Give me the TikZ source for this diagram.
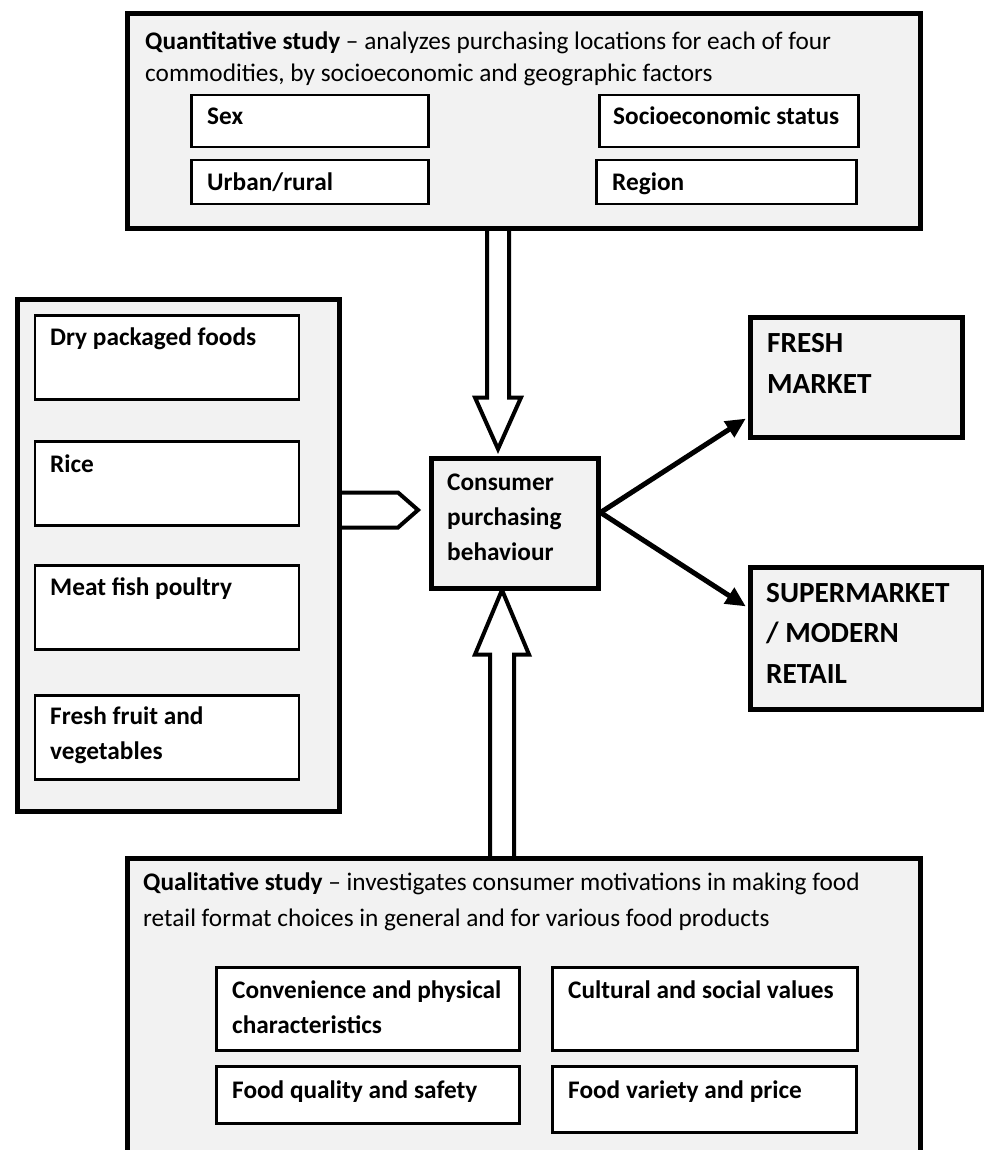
\documentclass[tikz,border=0pt]{standalone}
\usepackage{fontspec}
\setmainfont{Carlito}
\usetikzlibrary{arrows.meta,calc}
\definecolor{boxgray}{HTML}{F2F2F2}
\begin{document}
\begin{tikzpicture}[x=1pt,y=-1pt,
  bigbox/.style={draw=black,line width=5pt,fill=boxgray,inner sep=0pt,anchor=north west},
  subbox/.style={draw=black,line width=2.5pt,fill=white,inner sep=0pt,anchor=north west},
  txt/.style={inner sep=0pt,anchor=base west,align=left,font=\fontsize{25.3}{32}\selectfont},
  btxt/.style={inner sep=0pt,anchor=base west,align=left,font=\bfseries\fontsize{25.3}{35}\selectfont},
  bigtxt/.style={inner sep=0pt,anchor=base west,align=left,font=\bfseries\fontsize{29.2}{40.5}\selectfont},
  blockarrow/.style={draw=black,line width=4pt,fill=white,line join=miter},
  outarrow/.style={draw=black,line width=5pt,-{Triangle[length=20pt,width=18pt]},shorten >=2pt}
]
\useasboundingbox (0,0) rectangle (984,1150);
\fill[white] (0,0) rectangle (984,1150);
\clip (0,0) rectangle (984,1150);

% block arrows (drawn first, boxes cover their ends)
\draw[blockarrow] (487,224) -- (487,397.5) -- (475,397.5) -- (498,449) -- (521,397.5) -- (509,397.5) -- (509,224) -- cycle;
\draw[blockarrow] (490,860) -- (490,654.5) -- (475,654.5) -- (502,590) -- (529,654.5) -- (514,654.5) -- (514,860) -- cycle;
\draw[blockarrow] (335,492.5) -- (398,492.5) -- (418,510) -- (398,527.5) -- (335,527.5) -- cycle;

% top box
\node[bigbox,minimum width=793pt,minimum height=215pt] (quant) at (124.5,11.5) {};
\node[txt] (quantT) at (145,82) {\textbf{Quantitative study} – analyzes purchasing locations for each of four\\commodities, by socioeconomic and geographic factors};
\node[subbox,minimum width=237pt,minimum height=52pt] (sex) at (190,94) {};
\node[subbox,minimum width=237pt,minimum height=44pt] (urban) at (190,159) {};
\node[subbox,minimum width=259pt,minimum height=52pt] (ses) at (598,94) {};
\node[subbox,minimum width=260pt,minimum height=44pt] (region) at (595,159) {};
\node[btxt] (sexT) at (207,125) {Sex};
\node[btxt] (urbanT) at (207,191) {Urban/rural};
\node[btxt] (sesT) at (613,125) {Socioeconomic status};
\node[btxt] (regionT) at (612,191) {Region};

% left box
\node[bigbox,minimum width=322pt,minimum height=512.5pt] (comm) at (15,296.5) {};
\node[subbox,minimum width=264pt,minimum height=84pt] (dry) at (33.5,314) {};
\node[subbox,minimum width=264pt,minimum height=84pt] (rice) at (33.5,440) {};
\node[subbox,minimum width=264pt,minimum height=84pt] (meat) at (33.5,564) {};
\node[subbox,minimum width=264pt,minimum height=84pt] (fruit) at (33.5,694) {};
\node[btxt] (dryT) at (50,345) {Dry packaged foods};
\node[btxt] (riceT) at (50,472) {Rice};
\node[btxt] (meatT) at (50,595) {Meat fish poultry};
\node[btxt] (fruitT) at (50,759) {Fresh fruit and\\vegetables};

% consumer box
\node[bigbox,minimum width=167pt,minimum height=130pt] (cons) at (428.5,455.5) {};
\node[btxt] (consT) at (447,560) {Consumer\\purchasing\\behaviour};

% outlets
\node[bigbox,minimum width=212pt,minimum height=120pt] (fresh) at (747.5,314.5) {};
\node[bigtxt] (freshT) at (767,393) {FRESH\\MARKET};
\node[bigbox,minimum width=233pt,minimum height=142pt] (super) at (747.5,564.5) {};
\node[bigtxt] (superT) at (766,683) {SUPERMARKET\\/ MODERN\\RETAIL};

\draw[outarrow] ([yshift=10.5pt]cons.east) -- ([yshift=-40.5pt]fresh.west);
\draw[outarrow] ([yshift=10.5pt]cons.east) -- ([yshift=30.5pt]super.west);

% bottom box
\node[bigbox,minimum width=793pt,minimum height=344pt] (qual) at (124.5,856) {};
\node[txt,font=\fontsize{25.3}{36}\selectfont] (qualT) at (143,926) {\textbf{Qualitative study} – investigates consumer motivations in making food\\retail format choices in general and for various food products};
\node[subbox,minimum width=303pt,minimum height=83pt] (conv) at (215,966) {};
\node[subbox,minimum width=305pt,minimum height=83pt] (cult) at (551,966) {};
\node[subbox,minimum width=303pt,minimum height=57pt] (qs) at (215,1065) {};
\node[subbox,minimum width=304pt,minimum height=66pt] (vp) at (551,1065) {};
\node[btxt] (convT) at (232,1033) {Convenience and physical\\characteristics};
\node[btxt] (cultT) at (568,998) {Cultural and social values};
\node[btxt] (qsT) at (232,1098) {Food quality and safety};
\node[btxt] (vpT) at (568,1098) {Food variety and price};
\end{tikzpicture}
\end{document}
